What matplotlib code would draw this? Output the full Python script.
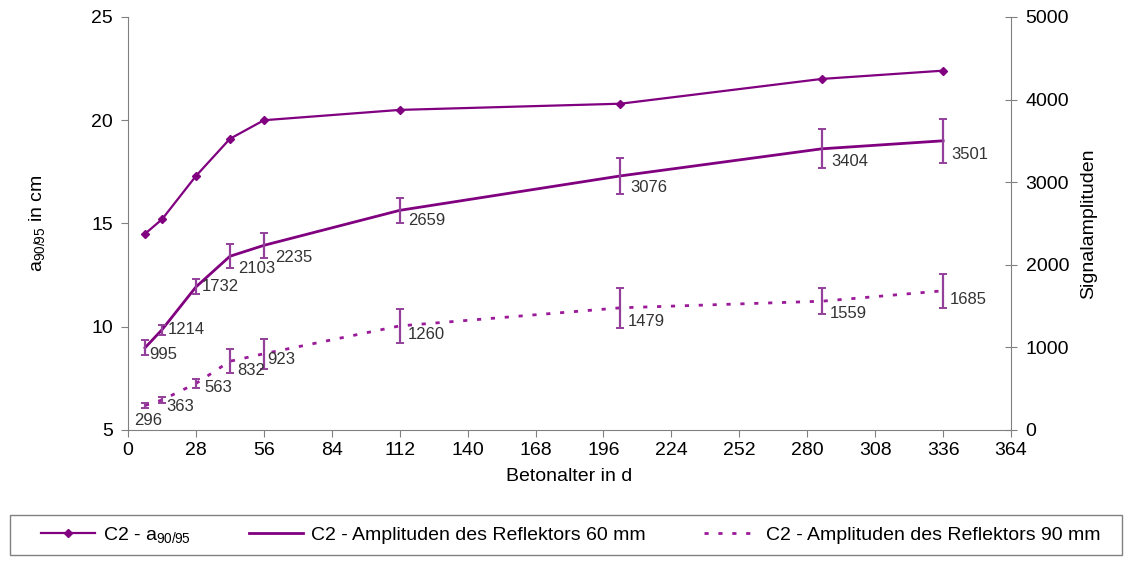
import matplotlib
matplotlib.use("Agg")
from matplotlib import pyplot as plt
from matplotlib.patches import Rectangle

plt.rcParams["font.family"] = ["Liberation Sans", "DejaVu Sans"]
plt.rcParams["mathtext.fontset"] = "custom"
plt.rcParams["mathtext.rm"] = "Liberation Sans"
plt.rcParams["mathtext.it"] = "Liberation Sans:italic"

# Betonalter in Tagen
days = [7, 14, 28, 42, 56, 112, 203, 286, 336]
a90_95 = [14.5, 15.2, 17.3, 19.1, 20.0, 20.5, 20.8, 22.0, 22.4]
amp_60 = [995, 1214, 1732, 2103, 2235, 2659, 3076, 3404, 3501]
err_60 = [90, 60, 90, 145, 150, 150, 215, 235, 265]
amp_90 = [296, 363, 563, 832, 923, 1260, 1479, 1559, 1685]
err_90 = [25, 40, 55, 145, 180, 205, 240, 160, 205]

x_ticks = list(range(0, 365, 28))
left_ticks = [5, 10, 15, 20, 25]
right_ticks = [0, 1000, 2000, 3000, 4000, 5000]

# label offsets in pixels (dx, dy)
off_60 = [(4, -7), (6, 0), (6, 0), (8, -12), (11, -12), (8, -10), (10, -12), (10, -13), (8, -14)]
off_90 = [(-11, -15), (4, -6), (8, -4), (7, -9), (3, -6), (8, -9), (7, -14), (8, -12), (7, -9)]

purple = "#800080"
err_col = "#93409a"
dash_col = "#9a1a9a"
grey = "#808080"

fig = plt.figure(figsize=(11.3, 5.62), dpi=100)
ax = fig.add_axes([0.1133, 0.2349, 0.7814, 0.7349])
ax2 = ax.twinx()

l1, = ax.plot(days, a90_95, color=purple, lw=1.6, marker="D", ms=4, label=r"C2 - a$_{\mathrm{90/95}}$")
l2, = ax2.plot(days, amp_60, color=purple, lw=2.0, label="C2 - Amplituden des Reflektors 60 mm")
ax2.errorbar(days, amp_60, yerr=err_60, fmt="none", ecolor=err_col, elinewidth=1.6, capsize=3, capthick=1.4)
l3, = ax2.plot(days, amp_90, color=dash_col, lw=2.0, linestyle=(0, (1.5, 3.5)),
               label="C2 - Amplituden des Reflektors 90 mm")
ax2.errorbar(days, amp_90, yerr=err_90, fmt="none", ecolor=err_col, elinewidth=1.6, capsize=3, capthick=1.4)

for x, y, o in zip(days, amp_60, off_60):
    ax2.annotate(str(y), (x, y), xytext=o, textcoords="offset pixels", fontsize=12,
                 color="#333333", ha="left", va="center")
for x, y, o in zip(days, amp_90, off_90):
    ax2.annotate(str(y), (x, y), xytext=o, textcoords="offset pixels", fontsize=12,
                 color="#333333", ha="left", va="center")

ax.set_xlim(0, 364)
ax.set_ylim(5, 25)
ax2.set_ylim(0, 5000)
ax.set_xticks(x_ticks)
ax.set_yticks(left_ticks)
ax2.set_yticks(right_ticks)

for a in (ax, ax2):
    a.spines["top"].set_visible(False)
    for s in ("left", "right", "bottom"):
        a.spines[s].set_color(grey)
ax.spines["right"].set_visible(False)
ax2.spines["left"].set_visible(False)
ax2.spines["bottom"].set_visible(False)

ax.tick_params(axis="x", direction="out", length=5, color=grey, labelsize=14, pad=4)
ax.tick_params(axis="y", direction="out", length=5, color=grey, labelsize=14, pad=6)
ax2.tick_params(axis="y", direction="inout", length=9, color=grey, labelsize=14, pad=6)

ax.set_xlabel("Betonalter in d", fontsize=14, labelpad=6)
ax.set_ylabel(r"a$_{\mathrm{90/95}}$ in cm", fontsize=14, labelpad=32)
ax2.set_ylabel("Signalamplituden", fontsize=14, labelpad=8)

fig.patches.append(Rectangle((0.0088, 0.0125), 0.9841, 0.0712, transform=fig.transFigure,
                             fill=False, edgecolor=grey, lw=1))
fig.legend(handles=[l1, l2, l3], loc="center", bbox_to_anchor=(0.505, 0.048), ncol=3,
           frameon=False, fontsize=14, handlelength=2.8, handletextpad=0.4, columnspacing=3.0)

fig.savefig("out.png", dpi=100)
